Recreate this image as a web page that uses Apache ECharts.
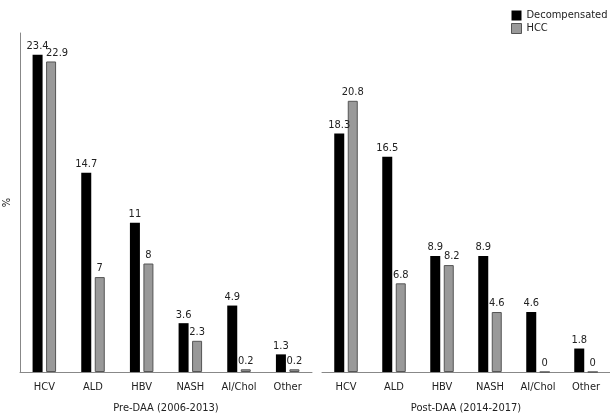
<!DOCTYPE html>
<html><head><meta charset="utf-8">
<script src="https://cdn.jsdelivr.net/npm/echarts@6/dist/echarts.min.js"></script>
<style>html,body{margin:0;padding:0;background:#fff}#c{width:610px;height:415px}</style>
</head><body><div id="c"></div>
<script>
var categories = ['HCV', 'ALD', 'HBV', 'NASH', 'AI/Chol', 'Other'];
var preDecomp = [23.4, 14.7, 11, 3.6, 4.9, 1.3];
var preHCC = [22.9, 7, 8, 2.3, 0.2, 0.2];
var postDecomp = [18.3, 16.5, 8.9, 8.9, 4.6, 1.8];
var postHCC = [20.8, 6.8, 8.2, 4.6, 0, 0];
var panelNames = ['Pre-DAA (2006-2013)', 'Post-DAA (2014-2017)'];
var seriesNames = ['Decompensated', 'HCC'];

var FONT = '"DejaVu Sans Condensed", "DejaVu Sans", sans-serif';
var txt = '#222';
function lbl(){ return {show: true, position: 'top', distance: 3, color: txt, fontSize: 11, fontFamily: FONT}; }
var blackStyle = {color: '#000000'};
var grayStyle = {color: '#999999', borderColor: '#555555', borderWidth: 1};

// nudge colliding labels sideways (style only, applied in code)
function withNudge(values, nudges){
  return values.map(function(v, i){
    if (nudges[i]) return {value: v, label: {offset: [nudges[i], 0]}};
    return v;
  });
}

function xAx(i){
  return {
    type: 'category', gridIndex: i, data: categories,
    axisLine: {lineStyle: {color: '#888', width: 1}},
    axisTick: {show: false},
    axisLabel: {color: txt, fontSize: 11, fontFamily: FONT, margin: 10, interval: 0},
    name: panelNames[i], nameLocation: 'middle', nameGap: 31,
    nameTextStyle: {color: txt, fontSize: 11, fontFamily: FONT}
  };
}

var chart = echarts.init(document.getElementById('c'), null, {renderer: 'canvas'});
chart.setOption({
  animation: false,
  textStyle: {fontFamily: FONT},
  legend: {
    orient: 'vertical', left: 506, top: 5, itemWidth: 10, itemHeight: 10, itemGap: 2,
    icon: 'rect',
    textStyle: {color: txt, fontSize: 11, fontFamily: FONT},
    data: [
      {name: seriesNames[0], itemStyle: {color: '#000', borderWidth: 0}},
      {name: seriesNames[1], itemStyle: {color: '#999', borderColor: '#555', borderWidth: 1}}
    ]
  },
  grid: [
    {left: 20, right: 298, top: 33, bottom: 43, containLabel: false, outerBoundsMode: 'none'},
    {left: 322, right: 0, top: 33, bottom: 43, containLabel: false, outerBoundsMode: 'none'}
  ],
  xAxis: [xAx(0), xAx(1)],
  yAxis: [
    {type: 'value', gridIndex: 0, min: 0, max: 25,
     axisLine: {show: true, lineStyle: {color: '#888'}}, axisTick: {show: false},
     axisLabel: {show: false}, splitLine: {show: false},
     name: '%', nameLocation: 'middle', nameGap: 7, nameRotate: 90,
     nameTextStyle: {color: txt, fontSize: 11, fontFamily: FONT}},
    {type: 'value', gridIndex: 1, min: 0, max: 26, show: false, splitLine: {show: false}}
  ],
  series: [
    {name: seriesNames[0], type: 'bar', xAxisIndex: 0, yAxisIndex: 0, data: preDecomp,
     barWidth: 10, barGap: '35%', itemStyle: blackStyle, label: lbl()},
    {name: seriesNames[1], type: 'bar', xAxisIndex: 0, yAxisIndex: 0, data: withNudge(preHCC, [6,0,0,0,0,0]),
     barWidth: 10, barGap: '35%', itemStyle: grayStyle, label: lbl()},
    {name: seriesNames[0], type: 'bar', xAxisIndex: 1, yAxisIndex: 1, data: postDecomp,
     barWidth: 10, barGap: '35%', itemStyle: blackStyle, label: lbl()},
    {name: seriesNames[1], type: 'bar', xAxisIndex: 1, yAxisIndex: 1, data: withNudge(postHCC, [0,0,3,0,0,0]),
     barWidth: 10, barGap: '35%', itemStyle: grayStyle, label: lbl()}
  ]
});
</script></body></html>
